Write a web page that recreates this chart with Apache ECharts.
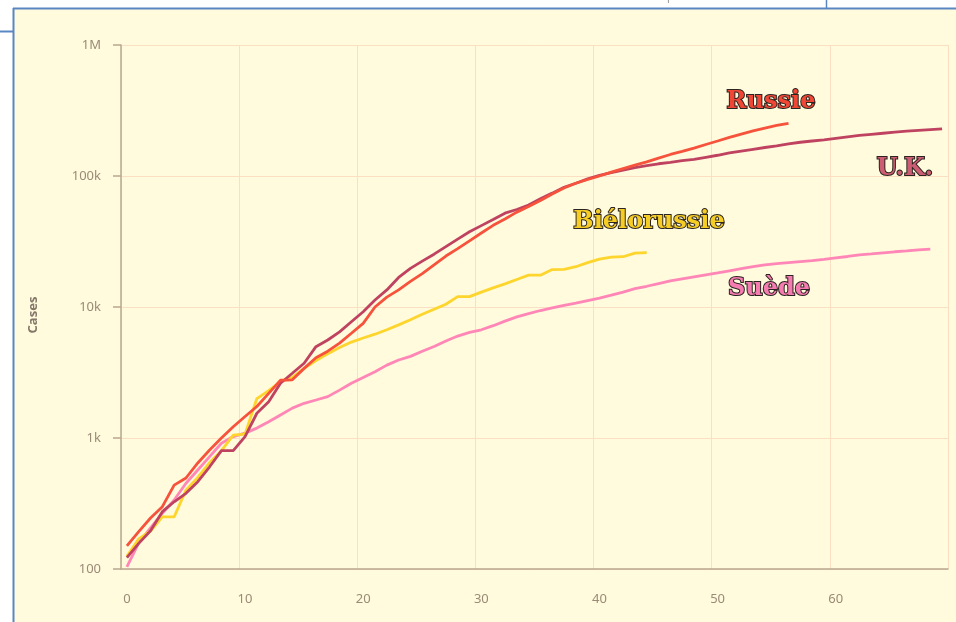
<!DOCTYPE html>
<html>
<head>
<meta charset="utf-8">
<script src="https://cdn.jsdelivr.net/npm/echarts@6/dist/echarts.min.js"></script>
<style>
  html, body { margin: 0; padding: 0; background: #ffffff; }
  #chart { position: absolute; left: 0; top: 0; width: 956px; height: 622px; }
</style>
</head>
<body>
<div id="chart"></div>
<script>
// days since the 100th case
var days = ['0','1','2','3','4','5','6','7','8','9','10','11','12','13','14','15','16','17','18','19',
  '20','21','22','23','24','25','26','27','28','29','30','31','32','33','34','35','36','37','38','39',
  '40','41','42','43','44','45','46','47','48','49','50','51','52','53','54','55','56','57','58','59',
  '60','61','62','63','64','65','66','67','68','69'];

var russie = [150, 193, 245, 299, 437, 495, 645, 810, 1000, 1220, 1460, 1740, 2190, 2760, 2780, 3400, 4100, 4600, 5300, 6300,
  7500, 10000, 11900, 13500, 15700, 18000, 21000, 24500, 27900, 32000, 36700, 42000, 47000, 53000, 58500, 65000, 73000, 81000, 88000, 94000,
  100000, 107000, 114000, 121000, 128000, 137000, 146000, 154000, 163000, 174000, 185000, 197000, 209000, 221000, 232000, 243000, 252000];

var uk = [122, 157, 196, 274, 326, 378, 464, 603, 800, 800, 1025, 1545, 1890, 2620, 3120, 3720, 4980, 5600, 6460, 7720,
  9200, 11300, 13500, 16800, 19700, 22400, 25300, 28900, 33000, 37500, 41800, 46500, 52000, 55500, 60000, 67000, 74000, 82000, 88000, 95000,
  101000, 106000, 111000, 116000, 120000, 124000, 127000, 131000, 134000, 139000, 144000, 150000, 155000, 160000, 165000, 170000, 176000, 181000, 185000, 189000,
  194000, 199000, 204000, 208000, 212000, 216000, 220000, 223000, 226000, 229000];

var bielorussie = [125, 170, 195, 250, 250, 400, 500, 650, 800, 1050, 1070, 2000, 2300, 2700, 2900, 3400, 3900, 4400, 4900, 5400,
  5800, 6200, 6700, 7300, 8000, 8800, 9600, 10500, 12000, 12000, 13000, 14000, 15000, 16200, 17500, 17500, 19300, 19400, 20300, 21800,
  23200, 24000, 24200, 25800, 26000];

var suede = [104, 158, 206, 266, 336, 451, 570, 720, 912, 1025, 1090, 1190, 1330, 1500, 1690, 1840, 1950, 2070, 2320, 2620,
  2900, 3200, 3600, 3940, 4200, 4600, 5000, 5500, 6000, 6400, 6700, 7200, 7800, 8400, 8900, 9400, 9850, 10300, 10700, 11200,
  11700, 12300, 13000, 13800, 14400, 15100, 15800, 16400, 17000, 17600, 18200, 18900, 19600, 20300, 21000, 21400, 21800, 22200, 22600, 23100,
  23700, 24300, 25000, 25400, 25900, 26400, 26800, 27300, 27700];

var yLabels = { 100: '100', 1000: '1k', 10000: '10k', 100000: '100k', 1000000: '1M' };

var axisColor = '#b9a88f';
var gridColor = '#fbdfc2';
var labelColor = '#9a8a78';

function tag (text, x, y, fill) {
  return {
    type: 'text',
    x: x,
    y: y,
    z: 100,
    style: {
      text: text,
      fill: fill,
      stroke: '#2b2420',
      lineWidth: 2,
      font: 'bold 24px "DejaVu Serif"',
      align: 'center',
      verticalAlign: 'middle',
      shadowColor: 'rgba(0,0,0,0.35)',
      shadowOffsetX: 1,
      shadowOffsetY: 1
    }
  };
}

var myChart = echarts.init(document.getElementById('chart'));
myChart.setOption({
  animation: false,
  backgroundColor: 'transparent',
  grid: {
    left: 121,
    right: 8,
    top: 45,
    bottom: 53
  },
  graphic: [
    // page frame around the chart
    { type: 'rect', z: -10, silent: true, shape: { x: 14, y: 9, width: 942, height: 613 }, style: { fill: '#fffbdc' } },
    { type: 'line', z: 50, shape: { x1: 13, y1: 8.5, x2: 956, y2: 8.5 }, style: { stroke: '#5a86c4', lineWidth: 2 } },
    { type: 'line', z: 50, shape: { x1: 13.5, y1: 8, x2: 13.5, y2: 622 }, style: { stroke: '#5a86c4', lineWidth: 2 } },
    { type: 'line', z: 50, shape: { x1: 0, y1: 31.5, x2: 13, y2: 31.5 }, style: { stroke: '#5a86c4', lineWidth: 2 } },
    { type: 'line', z: 50, shape: { x1: 826.5, y1: 0, x2: 826.5, y2: 8 }, style: { stroke: '#5a86c4', lineWidth: 1.5 } },
    { type: 'text', x: 10, y: -9, style: { text: 'Cases', fill: '#999', font: '11px "Noto Sans"', align: 'center', verticalAlign: 'top' } },
    { type: 'text', x: 347, y: -9, style: { text: 'March', fill: '#999', font: '11px "Noto Sans"', align: 'center', verticalAlign: 'top' } },
    { type: 'text', x: 672, y: -9, style: { text: 'April', fill: '#999', font: '11px "Noto Sans"', align: 'center', verticalAlign: 'top' } },
    // y axis title
    {
      type: 'text',
      x: 33,
      y: 315,
      rotation: Math.PI / 2,
      style: { text: 'Cases', fill: '#85766a', font: 'bold 13px "Noto Sans"', align: 'center', verticalAlign: 'middle' }
    },
    tag('Russie', 771, 102, '#ef4636'),
    tag('U.K.', 905, 169, '#cc5d72'),
    tag('Biélorussie', 649, 222, '#f6cd24'),
    tag('Suède', 769, 289, '#f57cb1')
  ],
  xAxis: {
    type: 'category',
    data: days,
    boundaryGap: true,
    axisLine: { lineStyle: { color: axisColor, width: 1.5 } },
    axisTick: { alignWithLabel: true, interval: 9, length: 6, lineStyle: { color: axisColor, width: 1.5 } },
    axisLabel: { interval: 9, color: labelColor, fontSize: 13, fontFamily: 'Noto Sans', margin: 24 },
    splitLine: { show: true, interval: 9, lineStyle: { color: gridColor, width: 1 } }
  },
  yAxis: {
    type: 'log',
    logBase: 10,
    min: 100,
    max: 1000000,
    axisLine: { show: true, lineStyle: { color: axisColor, width: 1.5 } },
    axisTick: { show: true, length: 8, lineStyle: { color: axisColor, width: 1.5 } },
    axisLabel: {
      color: labelColor,
      fontSize: 13,
      fontFamily: 'Noto Sans',
      margin: 20,
      formatter: function (v) { return yLabels[Math.round(v)] || ''; }
    },
    splitLine: { show: true, lineStyle: { color: gridColor, width: 1 } }
  },
  series: [
    {
      name: 'Suède',
      type: 'line',
      data: suede,
      showSymbol: false,
      lineStyle: { color: '#ff86b6', width: 2.8 }
    },
    {
      name: 'Biélorussie',
      type: 'line',
      data: bielorussie,
      showSymbol: false,
      lineStyle: { color: '#fed52d', width: 2.8 }
    },
    {
      name: 'U.K.',
      type: 'line',
      data: uk,
      showSymbol: false,
      lineStyle: { color: '#bf4260', width: 2.8 }
    },
    {
      name: 'Russie',
      type: 'line',
      data: russie,
      showSymbol: false,
      lineStyle: { color: '#f6523c', width: 2.8 }
    }
  ]
});
</script>
</body>
</html>
